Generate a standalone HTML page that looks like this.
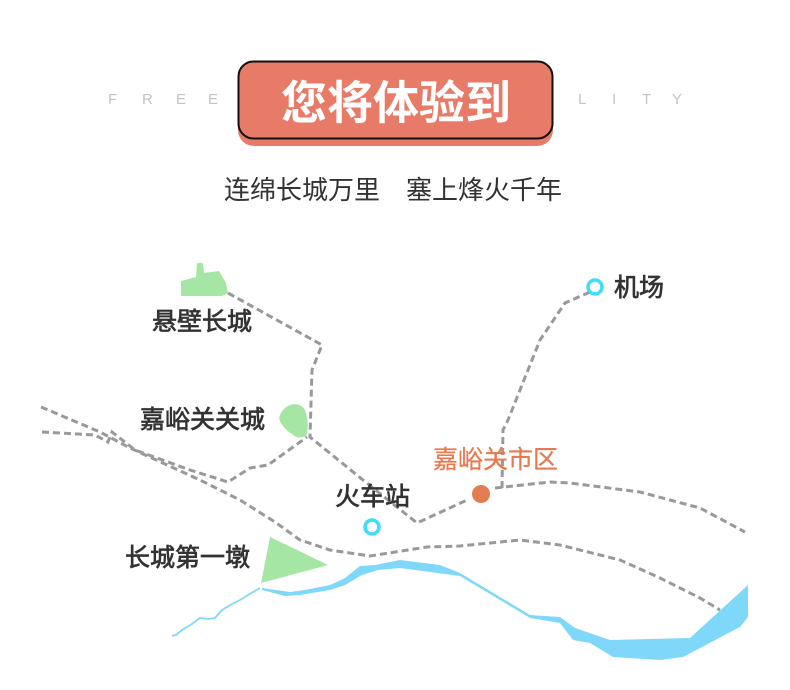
<!DOCTYPE html>
<html><head><meta charset="utf-8"><style>
html,body{margin:0;padding:0;background:#fff;width:790px;height:690px;overflow:hidden}
svg{display:block}
text{font-family:"Liberation Sans","Noto Sans CJK SC",sans-serif}
</style></head><body>
<svg width="790" height="690" viewBox="0 0 790 690" xmlns="http://www.w3.org/2000/svg">
<g fill="#c4c4c4" font-size="15">
<text x="108" y="104">F</text><text x="142" y="104">R</text><text x="176" y="104">E</text><text x="208" y="104">E</text>
<text x="578" y="104">L</text><text x="612" y="104">I</text><text x="642" y="104">T</text><text x="672" y="104">Y</text>
</g>
<rect x="238" y="68" width="315" height="78" rx="16" fill="#e87b67"/>
<rect x="238.5" y="61.5" width="314" height="77" rx="15" fill="#e87b67" stroke="#111" stroke-width="2"/>
<text x="396" y="119" text-anchor="middle" font-size="46" font-weight="bold" fill="#fff">您将体验到</text>
<text x="224" y="199" font-size="26" fill="#333">连绵长城万里</text>
<text x="406" y="199" font-size="26" fill="#333">塞上烽火千年</text>

<g fill="none" stroke="#999" stroke-width="3" stroke-dasharray="7 4">
<path d="M41,407 L100,432 L130,448 L200,480 L240,500 L275,522 L300,540 L330,550 L370,556 L427,547 L460,546 L520,540 L560,545 L620,560 L660,578 L700,598 L720,610"/>
<path d="M42,432 L95,435 L108,442 L112,432 L135,450 L190,470 L228,482 L250,468 L268,465 L307,437"/>
<path d="M228,293 L322,345 L312,370 L310,437 L363,480 L417,523 L467,500"/>
<path d="M495,488 L550,482 L570,483 L640,492 L700,508 L745,532"/>
<path d="M502,488 L503,430 L508,420 L540,340 L565,303 L590,292"/>
</g>
<polygon points="181,296 181,281 196,277 197,263 203,263 204,273 219,271 226,283 228,293 222,296" fill="#a5e6a4"/>
<path d="M290,405 Q300,402 305,410 Q310,425 306,436 Q298,440 292,434 Q282,428 279,418 Q282,408 290,405Z" fill="#a5e6a4"/>
<polygon points="270,537 328,565 261,583" fill="#a5e6a4"/>

<path d="M262,588 L290,592 L305,590 L330,585 L345,578 L360,566 L375,565 L400,560 L440,565 L460,573 L530,615 L560,617 L575,628 L610,640 L690,638 L748,585 L748,617 L740,627 L683,657 L660,660 L613,657 L590,643 L573,640 L560,623 L530,618 L460,576 L400,568 L378,570 L362,575 L345,585 L330,590 L300,595 L285,596 L262,590Z" fill="#7fd8fa"/>
<path d="M260,588 L248,595 L240,600 L232,604 L222,610 L215,618 L208,619 L200,618 L192,624 L182,630 L176,635 L172,636" fill="none" stroke="#7fd8fa" stroke-width="1.8"/>

<circle cx="595" cy="287" r="7" fill="none" stroke="#3ddcf7" stroke-width="3.5"/>
<circle cx="372" cy="527" r="7" fill="none" stroke="#3ddcf7" stroke-width="3.5"/>
<circle cx="481" cy="494" r="9" fill="#e27d51"/>

<g fill="#333" stroke="#333" stroke-width="0.7" font-size="25">
<text x="614" y="296">机场</text>
<text x="152" y="330">悬壁长城</text>
<text x="140" y="428">嘉峪关关城</text>
<text x="335" y="505">火车站</text>
<text x="125" y="566">长城第一墩</text>
</g>
<text x="433" y="468" font-size="25" fill="#e8794f" stroke="#e8794f" stroke-width="0.3">嘉峪关市区</text>
</svg>
</body></html>
